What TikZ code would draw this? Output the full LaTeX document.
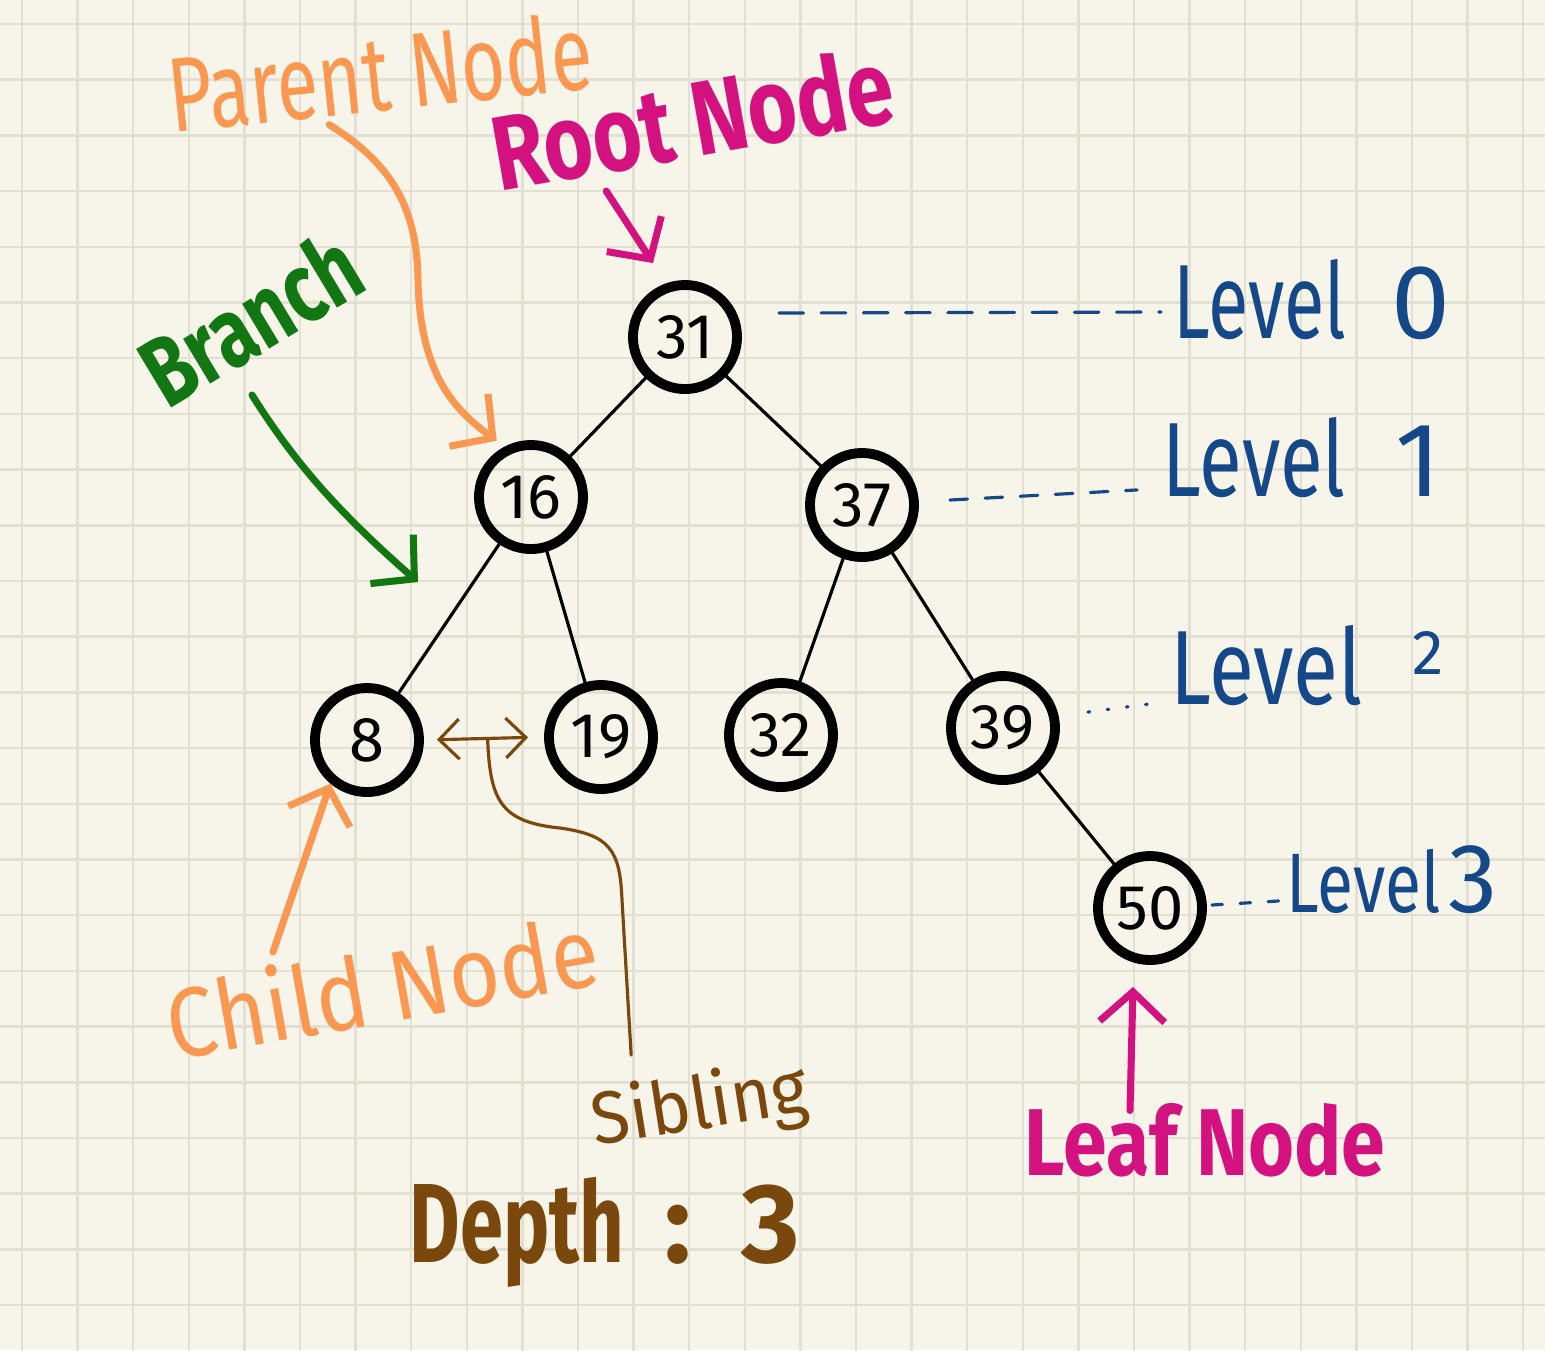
\documentclass[tikz,border=0pt]{standalone}
\usepackage{fontspec}
\usepackage{graphicx}
\setmainfont{Fira Sans}
\usetikzlibrary{arrows.meta, calc}

\definecolor{paper}{RGB}{247,245,234}
\definecolor{gridgray}{RGB}{226,223,211}
\definecolor{penorange}{RGB}{250,152,82}
\definecolor{penmagenta}{RGB}{211,18,128}
\definecolor{pengreen}{RGB}{18,118,18}
\definecolor{penblue}{RGB}{20,72,136}
\definecolor{penbrown}{RGB}{122,72,12}

% size, horizontal squeeze, text
\newcommand{\handtext}[3]{\fontsize{#1}{#1}\selectfont\scalebox{#2}[1]{#3}}

\begin{document}
\begin{tikzpicture}[
    x=0.01cm, y=-0.01cm,
    line cap=round, line join=round,
    tnode/.style={draw, circle, line width=2.8pt, minimum size=1.04cm, inner sep=0pt,
      font=\fontsize{18}{18}\selectfont},
    branchline/.style={line width=0.9pt},
    penline/.style={line width=2pt},
    hand/.style={inner sep=0pt},
    barb/.style={-{Straight Barb[length=3mm, width=6.5mm]}},
    sibline/.style={penbrown, line width=0.9pt},
    levelline/.style={penblue, line width=0.9pt},
    levelword/.style={hand, penblue, font=\fontsize{30}{30}\selectfont},
  ]
  % --- paper ---
  \fill[paper] (0,0) rectangle (1545,1350);
  \useasboundingbox (0,0) rectangle (1545,1350);
  \foreach \k in {0,...,27}
    \draw[gridgray, line width=0.7pt] (22+55.6*\k,0) -- (22+55.6*\k,1350);
  \foreach \k in {0,...,23}
    \draw[gridgray, line width=0.7pt] (0,24+55.7*\k) -- (1545,24+55.7*\k);

  % --- tree ---
  \node[tnode] (n31) at (685,337) {31};
  \node[tnode] (n16) at (531,497) {16};
  \node[tnode] (n37) at (862,505) {37};
  \node[tnode] (n8)  at (367,740) {8};
  \node[tnode] (n19) at (601,737) {19};
  \node[tnode] (n32) at (781,735) {32};
  \node[tnode] (n39) at (1003,728) {39};
  \node[tnode] (n50) at (1150,908) {50};

  \draw[branchline] (n31) -- (n16);
  \draw[branchline] (n31) -- (n37);
  \draw[branchline] (n16) -- (n8);
  \draw[branchline] (n16) -- (n19);
  \draw[branchline] (n37) -- (n32);
  \draw[branchline] (n37) -- (n39);
  \draw[branchline] (n39) -- (n50);

  % --- levels ---
  \node[levelword] (lvl0) at (1312,300) {\scalebox{0.7}[1]{Level}\hspace{0.45cm}0};
  \node[levelword] (lvl1) at (1302,458) {\scalebox{0.74}[1]{Level}\hspace{0.5cm}1};
  \node[levelword] (lvl2) at (1307,666) {\scalebox{0.78}[1]{Level}\hspace{0.5cm}\raisebox{0.3cm}{\fontsize{18}{18}\selectfont 2}};
  \node[levelword, font=\fontsize{24}{24}\selectfont] (lvl3) at (1392,880) {\scalebox{0.78}[1]{Level}\hspace{0.08cm}{\fontsize{28}{28}\selectfont 3}};

  \draw[levelline, dash pattern=on 7pt off 5pt] ($(n31.east)+(37,-24)$) -- ($(lvl0.west)+(-12,12)$);
  \draw[levelline, dash pattern=on 5pt off 5pt] ($(n37.east)+(31,-5)$) -- ($(lvl1.base west)+(-25,-7)$);
  \draw[levelline, dash pattern=on 0.5pt off 5pt] ($(n39.east)+(28,-16)$) -- ($(lvl2.base west)+(-5,-3)$);
  \draw[levelline, dash pattern=on 3pt off 5pt] ($(n50.east)+(5,-3)$) -- ($(lvl3.base west)+(-5,-12)$);

  % --- labels ---
  \node[hand, penorange, rotate=6] (parent) at (380,72) {\handtext{30}{0.72}{Parent Node}};
  \node[hand, penmagenta, rotate=10] (root) at (692,118) {\handtext{30}{0.8}{\bfseries Root Node}};
  \node[hand, pengreen, rotate=31] (branch) at (250,318) {\handtext{28}{0.76}{\bfseries Branch}};
  \node[hand, penorange, rotate=10] (child) at (382,985) {\handtext{28}{0.89}{Child Node}};
  \node[hand, penbrown, rotate=9] (sibling) at (700,1108) {\handtext{21}{0.95}{Sibling}};
  \node[hand, penbrown, font=\fontsize{32}{32}\selectfont\bfseries] (depth) at (605,1232)
    {\scalebox{0.69}[1]{Depth}\hspace{0.4cm}:\hspace{0.5cm}3};
  \node[hand, penmagenta] (leaf) at (1205,1140) {\handtext{27}{0.83}{\bfseries Leaf Node}};

  % --- pointers ---
  \coordinate (branchtip) at (418,582);
  \draw[penline, penorange, barb] ($(parent.south)+(-55,12)$)
    .. controls (385,160) and (417,200) .. (418,280)
    .. controls (420,375) and (455,410) .. ($(n16.north west)+(6,-16)$);
  \draw[penline, penmagenta, barb] ($(root.south)+(-93,32)$) -- ($(n31.north)+(-32,-17)$);
  \draw[penline, pengreen, barb] ($(branch.center)+(2,77)$)
    .. controls (290,455) and (330,505) .. (branchtip);
  \draw[penline, penorange, barb] ($(child.center)+(-109,-33)$) -- (n8.230);
  \draw[penline, penmagenta, barb] ($(leaf.north)+(-75,8)$) -- ($(n50.south)+(-17,22)$);

  % --- sibling ---
  \draw[sibline, {Straight Barb[length=2mm, width=4mm]}-{Straight Barb[length=2mm, width=4mm]},
    shorten <=0.13cm, shorten >=0.16cm] (n8.east) -- coordinate[pos=0.53] (sibfork) (n19.west);
  \draw[sibline] (sibfork) .. controls (490,800) and (500,822) .. (560,828)
    .. controls (610,835) and (620,850) .. (622,900) -- ($(sibling.north)+(-63,-16)$);
\end{tikzpicture}
\end{document}
